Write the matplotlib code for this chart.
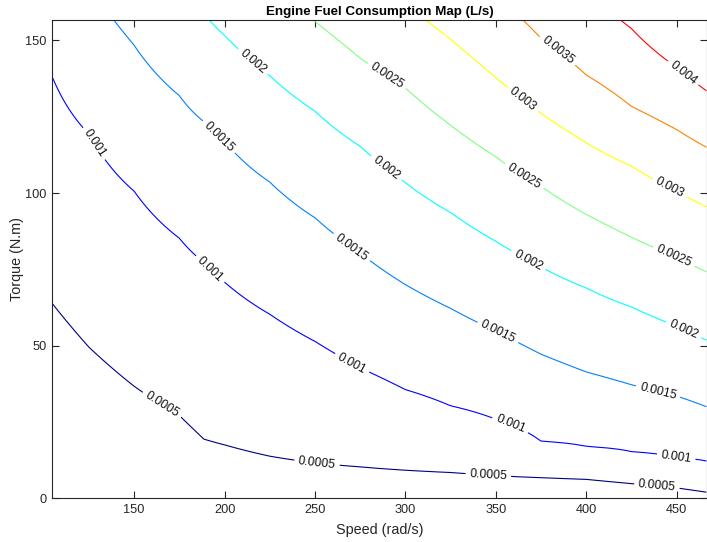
import numpy as np
import matplotlib
matplotlib.use("Agg")
import matplotlib.pyplot as plt

plt.rcParams['font.family'] = ['Liberation Sans', 'DejaVu Sans']

# Speed breakpoints (rad/s)
speeds = [104.72, 125, 150, 175, 188.5, 200, 225, 250, 275, 300, 325, 350, 375, 400, 425, 450, 466.5]
# Fuel-rate levels (L/s)
levels = [0.0005, 0.001, 0.0015, 0.002, 0.0025, 0.003, 0.0035, 0.004]
# Torque (N.m) at which each fuel-rate level is reached, per speed breakpoint
torque_0p0005 = [63.8, 49.5, 36.7, 27.1, 19.4, 17.5, 13.8, 11.6, 10.3, 9.2, 8.45, 7.5, 6.75, 6.2, 4.8, 3.4, 2.0]
torque_0p0010 = [138.0, 119.3, 100.6, 85.2, 77.3, 70.8, 60.3, 51.4, 42.7, 35.6, 30.3, 25.9, 18.7, 17.0, 15.3, 13.4, 12.2]
torque_0p0015 = [195, 168, 148.4, 131.9, 123.4, 116.9, 103.6, 91.9, 80.3, 70.0, 62.2, 54.8, 47.2, 41.4, 37.2, 33.5, 30.0]
torque_0p0020 = [250, 222, 192, 167.5, 158.8, 151.6, 138.4, 126.8, 115.3, 103.4, 93.6, 84.2, 75.8, 68.9, 62.7, 56.4, 51.8]
torque_0p0025 = [290, 255, 225, 200, 190, 182, 168.7, 156.2, 144.2, 134.4, 122.2, 111.9, 102.2, 93.0, 85.5, 79.0, 74.2]
torque_0p0030 = [335, 295, 262, 235, 223, 215, 200.7, 187.2, 174.2, 162, 150.4, 137.8, 126.1, 116.5, 108.8, 100.6, 95.5]
torque_0p0035 = [372, 327, 292, 263, 252, 243, 228, 214, 201, 189, 177.4, 166, 150.8, 138.7, 128.4, 120.8, 115.0]
torque_0p0040 = [410, 360, 323, 293, 282, 272, 256, 242, 229, 216, 204, 193, 178, 166, 153.9, 141.2, 133.5]

x_ticks = [150, 200, 250, 300, 350, 400, 450]
y_ticks = [0, 50, 100, 150]

# label anchor positions (speed, torque) for contour labels
label_positions = [
    (165.3, 30.6), (251.1, 11.5), (345.8, 7.1), (439.0, 3.5),
    (127.5, 116.1), (191.7, 74.9), (270.1, 43.9), (357.8, 23.8), (449.5, 12.8),
    (196.3, 118.0), (270.1, 82.1), (351.3, 54.6), (439.6, 34.9),
    (214.8, 142.5), (288.6, 107.6), (368.0, 78.1), (453.8, 55.1),
    (289.4, 138.1), (366.1, 105.9), (448.2, 78.8),
    (364.3, 130.2), (445.5, 101.0),
    (383.7, 146.3),
    (452.9, 138.9),
]

colors = ['#000080', '#0000FF', '#0080FF', '#00FFFF', '#80FF80', '#FFFF00', '#FF8000', '#FF0000']

tq_table = np.array([torque_0p0005, torque_0p0010, torque_0p0015, torque_0p0020,
                     torque_0p0025, torque_0p0030, torque_0p0035, torque_0p0040])
lv = np.array(levels)
S = np.array(speeds)
T = np.linspace(0, 156.6, 400)
Z = np.empty((T.size, S.size))
for j in range(S.size):
    tk = tq_table[:, j]
    z = np.interp(T, tk, lv)
    lo = T < tk[0]
    z[lo] = lv[0] + (T[lo] - tk[0]) * (lv[1] - lv[0]) / (tk[1] - tk[0])
    hi = T > tk[-1]
    z[hi] = lv[-1] + (T[hi] - tk[-1]) * (lv[-1] - lv[-2]) / (tk[-1] - tk[-2])
    Z[:, j] = z

fig = plt.figure(figsize=(7.07, 5.42), dpi=100)
W, H = 707, 542
ax = fig.add_axes([52.3 / W, 1 - 498.3 / H, (706.5 - 52.3) / W, (498.3 - 20.3) / H])

cs = ax.contour(S, T, Z, levels=levels, colors=colors, linewidths=0.8)
ax.clabel(cs, levels, inline=True, inline_spacing=4, fontsize=8.8, colors='#111111',
          fmt={l: f'{l:g}' for l in levels}, manual=label_positions)

ax.set_xlim(104.72, 466.5)
ax.set_ylim(0, 156.6)
ax.set_xticks(x_ticks)
ax.set_yticks(y_ticks)
axc = '#262626'
for sp in ax.spines.values():
    sp.set_color(axc)
    sp.set_linewidth(0.8)
ax.tick_params(direction='in', top=True, right=True, length=4.8, width=0.8,
               colors=axc, labelsize=9.2, pad=4)
ax.set_title('Engine Fuel Consumption Map (L/s)', fontsize=9.6, fontweight='bold', color='black', pad=4)
ax.set_xlabel('Speed (rad/s)', fontsize=10.4, color=axc, labelpad=5)
ax.set_ylabel('Torque (N.m)', fontsize=10.4, color=axc, labelpad=1)

fig.savefig('out.png', dpi=100)
